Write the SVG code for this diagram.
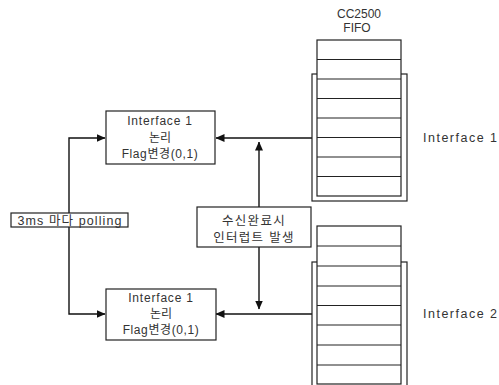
<svg xmlns="http://www.w3.org/2000/svg" width="499" height="385" viewBox="0 0 499 385">
<style>
.bg{fill:#fff}
.box{fill:#fff;stroke:#222;stroke-width:1.2}
.cell{fill:none;stroke:#222;stroke-width:1.2}
.div{stroke:#222;stroke-width:1.2}
.con{fill:none;stroke:#111;stroke-width:1.4}
text{font-family:"Liberation Sans","Noto Sans CJK KR",sans-serif;fill:#333;font-size:12px}
.c{text-anchor:middle}
</style>
<defs>
<marker id="ah" markerWidth="9" markerHeight="8" refX="8.5" refY="4" orient="auto" markerUnits="userSpaceOnUse">
<path d="M0,0 L9,4 L0,8 Z" fill="#111"/>
</marker>
<marker id="ahs" markerWidth="9" markerHeight="8" refX="0.5" refY="4" orient="auto" markerUnits="userSpaceOnUse">
<path d="M9,0 L0,4 L9,8 Z" fill="#111"/>
</marker>
</defs>
<rect class="bg" x="0" y="0" width="499" height="385"/>

<g id="connectors">
<path class="con" d="M312,138 H216" marker-end="url(#ah)"/>
<path class="con" d="M69,213 V138 H105" marker-end="url(#ah)"/>
<path class="con" d="M69,227 V314 H105" marker-end="url(#ah)"/>
<path class="con" d="M312,314 H216" marker-end="url(#ah)"/>
<path class="con" d="M259,142 V309" marker-start="url(#ahs)" marker-end="url(#ah)"/>
</g>

<g id="fifo1">
<text class="c" x="359" y="18">CC2500</text>
<text class="c" x="357" y="32">FIFO</text>
<rect class="cell" x="312" y="74" width="95" height="127"/>
<rect class="box" x="317" y="40" width="84" height="156"/>
<line class="div" x1="317" y1="59.5" x2="401" y2="59.5"/>
<line class="div" x1="317" y1="79" x2="401" y2="79"/>
<line class="div" x1="317" y1="98.5" x2="401" y2="98.5"/>
<line class="div" x1="317" y1="118" x2="401" y2="118"/>
<line class="div" x1="317" y1="137.5" x2="401" y2="137.5"/>
<line class="div" x1="317" y1="157" x2="401" y2="157"/>
<line class="div" x1="317" y1="176.5" x2="401" y2="176.5"/>
<text x="423" y="142" style="font-size:12.5px;letter-spacing:1.5px">Interface 1</text>
</g>

<g id="fifo2">
<rect class="cell" x="312" y="262" width="95" height="130"/>
<rect class="box" x="317" y="226" width="84" height="158"/>
<line class="div" x1="317" y1="246" x2="401" y2="246"/>
<line class="div" x1="317" y1="266" x2="401" y2="266"/>
<line class="div" x1="317" y1="286" x2="401" y2="286"/>
<line class="div" x1="317" y1="305.5" x2="401" y2="305.5"/>
<line class="div" x1="317" y1="325" x2="401" y2="325"/>
<line class="div" x1="317" y1="345" x2="401" y2="345"/>
<line class="div" x1="317" y1="365" x2="401" y2="365"/>
<text x="423" y="318" style="font-size:12.5px;letter-spacing:1.5px">Interface 2</text>
</g>

<g id="iface-top">
<rect class="box" x="106" y="111" width="109" height="53"/>
<text class="c" x="160" y="125" style="letter-spacing:0.8px">Interface 1</text>
<text class="c" x="160" y="142">논리</text>
<text class="c" x="160" y="158" style="letter-spacing:0.6px">Flag변경(0,1)</text>
</g>

<g id="iface-bottom">
<rect class="box" x="106" y="289" width="110" height="51"/>
<text class="c" x="161" y="302" style="letter-spacing:0.8px">Interface 1</text>
<text class="c" x="161" y="318">논리</text>
<text class="c" x="161" y="334" style="letter-spacing:0.6px">Flag변경(0,1)</text>
</g>

<g id="polling">
<rect class="box" x="11" y="213" width="117" height="14"/>
<text class="c" x="70" y="224.5" style="font-size:12.5px;letter-spacing:1.1px">3ms 마다 polling</text>
</g>

<g id="interrupt">
<rect class="box" x="197" y="207" width="114" height="40"/>
<text class="c" x="254" y="225" style="font-size:12.5px;letter-spacing:1.3px">수신완료시</text>
<text class="c" x="254" y="242" style="font-size:12.5px;letter-spacing:1.3px">인터럽트 발생</text>
</g>
</svg>
